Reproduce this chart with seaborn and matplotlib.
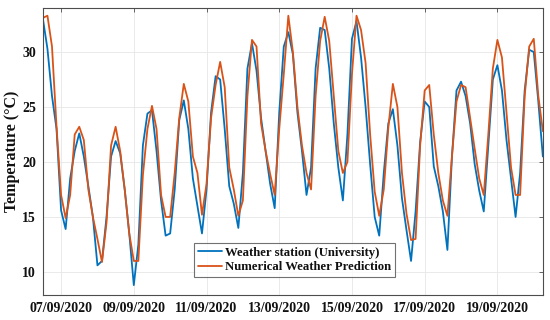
import matplotlib
matplotlib.use("Agg")
import matplotlib.dates as mdates
import matplotlib.pyplot as plt
import pandas as pd
import seaborn as sns

# 3-hourly readings, 06/09/2020 12:00 -> 20/09/2020 06:00
START = "2020-09-06 12:00"
station = [
    33.0, 30.3, 26.0, 23.0, 15.6, 13.9, 18.5, 21.0, 22.6, 20.5, 17.8, 15.0,
    10.6, 11.0, 15.0, 20.5, 21.9, 20.8, 17.5, 13.5, 8.8, 12.5, 21.5, 24.4,
    24.7, 21.0, 16.5, 13.3, 13.5, 17.5, 23.8, 25.6, 23.0, 18.5, 16.0, 13.5,
    17.5, 24.5, 27.8, 27.5, 23.0, 17.8, 16.2, 14.0, 19.0, 28.5, 30.8, 28.3,
    24.0, 21.0, 18.0, 15.8, 24.5, 30.5, 31.8, 29.8, 24.5, 21.0, 17.0, 19.5,
    28.5, 32.2, 32.0, 28.5, 23.5, 19.5, 16.5, 22.5, 31.2, 32.8, 29.5, 25.0,
    19.8, 15.0, 13.3, 19.0, 23.5, 24.8, 21.5, 16.7, 13.8, 11.0, 15.5, 21.8,
    25.5, 25.0, 19.6, 17.8, 15.5, 12.0, 20.5, 26.5, 27.3, 26.0, 23.5, 19.8,
    17.4, 15.5, 21.5, 27.5, 28.8, 26.5, 22.0, 18.5, 15.0, 19.0, 26.5, 30.2,
    30.0, 25.5, 20.5,
]
nwp = [
    33.1, 33.3, 30.5, 23.2, 17.0, 14.9, 17.0, 22.5, 23.2, 22.0, 17.5, 15.0,
    13.0, 10.9, 14.5, 21.5, 23.2, 21.0, 17.5, 13.5, 11.0, 11.0, 18.8, 23.0,
    25.1, 23.0, 17.0, 15.0, 15.0, 19.0, 24.0, 27.1, 25.5, 20.5, 19.0, 15.2,
    18.0, 24.0, 27.0, 29.1, 26.8, 19.5, 17.5, 15.1, 16.5, 26.0, 31.1, 30.5,
    23.5, 21.0, 18.9, 17.0, 23.0, 28.0, 33.3, 30.0, 25.0, 21.5, 19.0, 17.5,
    26.0, 31.0, 33.2, 31.0, 26.0, 21.0, 19.0, 20.0, 28.0, 33.3, 32.0, 29.0,
    22.5, 17.3, 15.1, 17.5, 23.1, 27.1, 25.0, 19.0, 15.3, 12.9, 13.0, 21.5,
    26.5, 27.0, 22.5, 19.0, 16.5, 15.1, 20.5, 25.5, 27.0, 26.8, 24.0, 21.2,
    18.5, 17.0, 22.5, 28.5, 31.1, 29.5, 24.5, 19.5, 17.0, 17.0, 26.0, 30.5,
    31.2, 26.0, 22.8,
]
series_names = ["Weather station (University)", "Numerical Weather Prediction"]
tick_days = ["2020-09-07", "2020-09-09", "2020-09-11", "2020-09-13",
             "2020-09-15", "2020-09-17", "2020-09-19"]
y_ticks = [10, 15, 20, 25, 30]

times = pd.date_range(START, periods=len(station), freq="3h")
df = pd.concat([
    pd.DataFrame({"time": times, "temp": station, "source": series_names[0]}),
    pd.DataFrame({"time": times, "temp": nwp, "source": series_names[1]}),
])

sns.set_theme(style="whitegrid")
plt.rcParams["font.family"] = ["Liberation Serif", "DejaVu Serif"]
plt.rcParams["font.weight"] = "bold"

fig = plt.figure(figsize=(5.5, 3.2), dpi=100)
ax = fig.add_axes([0.078, 0.078, 0.909, 0.897])

sns.lineplot(data=df, x="time", y="temp", hue="source", ax=ax,
             palette=["#0072BD", "#D95319"], linewidth=1.3, legend=True)

ax.set_xlim(times[0], times[-1])
ax.set_ylim(7.9, 34.0)
ax.set_xticks(pd.to_datetime(tick_days))
ax.xaxis.set_major_formatter(mdates.DateFormatter("%d/%m/%Y"))
ax.set_yticks(y_ticks)
ax.tick_params(direction="in", length=3, width=0.6, color="#4d4d4d",
               top=True, right=True, labelsize=10, pad=5, labelcolor="#111111")
for lab in ax.get_xticklabels() + ax.get_yticklabels():
    lab.set_fontweight("bold")
ax.grid(color="#e6e6e6", linewidth=0.6)
for sp in ax.spines.values():
    sp.set_color("#4d4d4d")
    sp.set_linewidth(0.8)

ax.set_xlabel("")
ax.set_ylabel("Temperature (°C)", fontsize=11.5, fontweight="bold", labelpad=1.5,
              color="#111111")

leg = ax.legend(loc="lower left", bbox_to_anchor=(0.302, 0.063), borderaxespad=0,
                fontsize=9.2, frameon=True, fancybox=False, handlelength=1.9,
                borderpad=0.3, labelspacing=0.2, handletextpad=0.2)
leg.get_frame().set_edgecolor("#4d4d4d")
leg.get_frame().set_linewidth(0.8)
for t in leg.get_texts():
    t.set_fontweight("bold")
    t.set_color("#111111")

fig.savefig("out.png", dpi=100)
